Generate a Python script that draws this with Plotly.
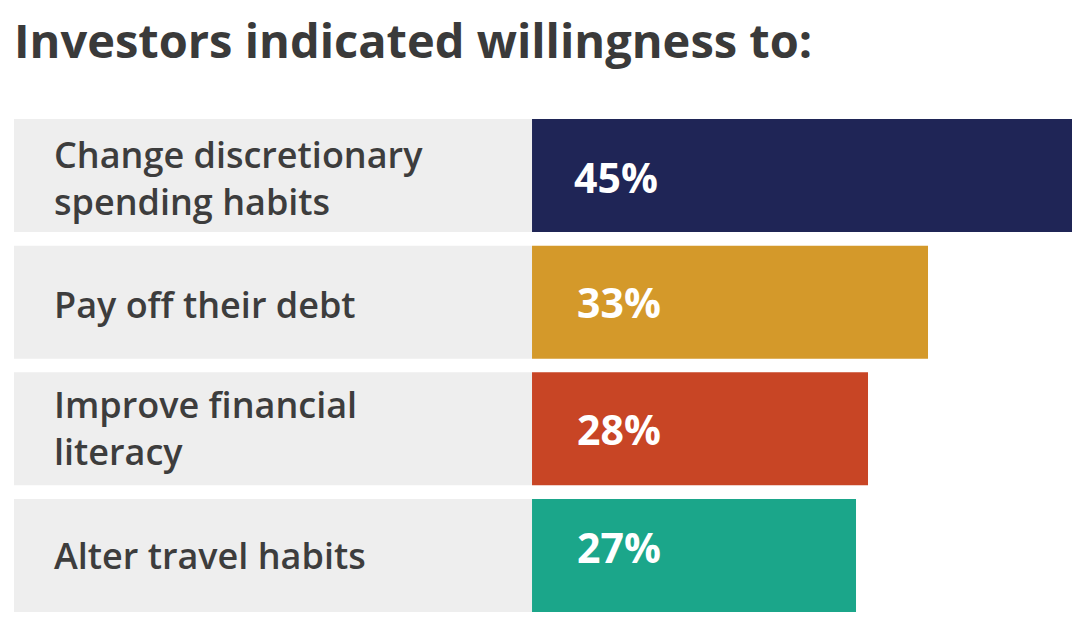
import plotly.graph_objects as go

categories = ["Change discretionary<br>spending habits", "Pay off their debt",
              "Improve financial<br>literacy", "Alter travel habits"]
values = [45, 33, 28, 27]
value_labels = ["45%", "33%", "28%", "27%"]
bar_colors = ["#1f2556", "#d4992a", "#c84525", "#1ba68a"]
title_text = "Investors indicated willingness to:"

LABEL_SPAN = 43.17  # width of grey label panel in axis units
FONT = "Open Sans"
label_yshift = [-3, -2, 1, 0]
value_yshift = [-2, 0, 0, 8]
value_xshift = [40, 43, 43, 43]

fig = go.Figure()
fig.add_trace(go.Bar(
    y=categories, x=[LABEL_SPAN] * len(categories), base=[-LABEL_SPAN] * len(categories),
    orientation="h", marker=dict(color="#eeeeee", line=dict(width=0)),
    hoverinfo="skip", showlegend=False))
fig.add_trace(go.Bar(
    y=categories, x=values, orientation="h",
    marker=dict(color=bar_colors, line=dict(width=0)),
    showlegend=False))

for i, (cat, lab) in enumerate(zip(categories, value_labels)):
    fig.add_annotation(x=0, y=cat, xref="x", yref="y", text=lab, showarrow=False,
                       xanchor="left", xshift=value_xshift[i], yshift=value_yshift[i],
                       font=dict(family=FONT, size=41, color="white", weight=700))
    fig.add_annotation(x=-LABEL_SPAN, y=cat, xref="x", yref="y", text=cat, showarrow=False,
                       xanchor="left", align="left", xshift=38, yshift=label_yshift[i],
                       font=dict(family=FONT, size=36, color="#3d3d3d", weight=600))

fig.update_layout(
    width=1064, height=605,
    margin=dict(l=6, r=0, t=104, b=0),
    paper_bgcolor="white", plot_bgcolor="white",
    barmode="overlay", bargap=0.108,
    title=dict(text=title_text, x=0.0056, xanchor="left", y=0.9446, yanchor="middle",
               font=dict(family=FONT, size=47, color="#3a3a3a", weight=700)),
    xaxis=dict(range=[-LABEL_SPAN, 45], visible=False, fixedrange=True),
    yaxis=dict(range=[3.454, -0.501], visible=False, fixedrange=True),
)
fig.write_html("out.html")
